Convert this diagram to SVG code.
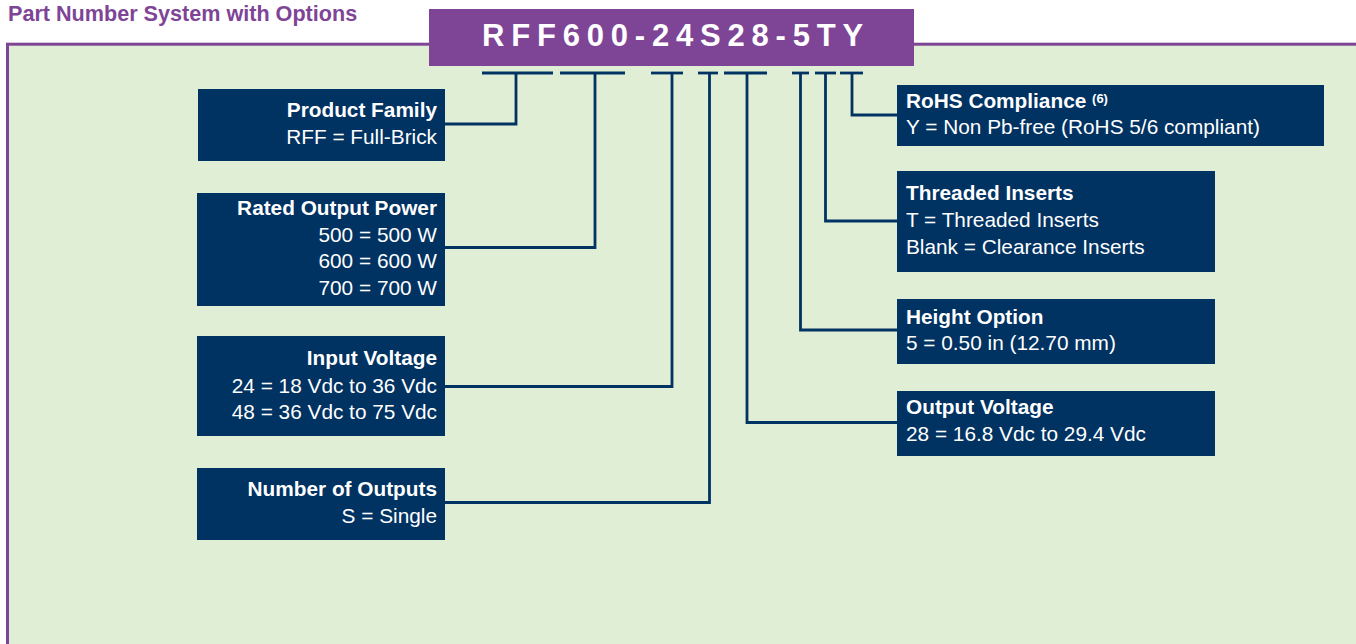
<svg xmlns="http://www.w3.org/2000/svg" width="1356" height="644" viewBox="0 0 1356 644">
<style>
.box{fill:#003262}
.t{font-family:"Liberation Sans",Arial,sans-serif;font-size:20.8px;fill:#ffffff}
.b{font-weight:bold}
.r{text-anchor:end}
.conn{fill:none;stroke:#003262;stroke-width:2.8}
</style>
<rect x="0" y="0" width="1356" height="644" fill="#ffffff"/>
<text x="8" y="21" font-family="'Liberation Sans',Arial,sans-serif" font-size="21.6" font-weight="bold" fill="#7E4496">Part Number System with Options</text>
<rect x="7.5" y="44.2" width="1360" height="610" fill="#E1EED6" stroke="#7E4496" stroke-width="3"/>
<g id="partnumber">
<rect x="429" y="9" width="485" height="57" fill="#7E4496"/>
<text x="482" y="46" font-family="'Liberation Sans',Arial,sans-serif" font-size="31" font-weight="bold" letter-spacing="6.8" fill="#ffffff">RFF600-24S28-5TY</text>
</g>
<g id="connectors" class="conn">
<line x1="482" y1="73" x2="553" y2="73"/>
<line x1="560" y1="73" x2="625" y2="73"/>
<line x1="651" y1="73" x2="683" y2="73"/>
<line x1="698" y1="73" x2="718" y2="73"/>
<line x1="724" y1="73" x2="767" y2="73"/>
<line x1="792" y1="73" x2="809" y2="73"/>
<line x1="815" y1="73" x2="836" y2="73"/>
<line x1="840" y1="73" x2="863" y2="73"/>
<polyline points="516,73 516,124 445,124"/>
<polyline points="595,73 595,247.5 445,247.5"/>
<polyline points="672,73 672,386.5 445,386.5"/>
<polyline points="709.5,73 709.5,502.5 445,502.5"/>
<polyline points="747,73 747,422.5 897,422.5"/>
<polyline points="800.5,73 800.5,330 897,330"/>
<polyline points="825.5,73 825.5,221 897,221"/>
<polyline points="852,73 852,115 897,115"/>
</g>
<g id="product-family">
<rect class="box" x="198" y="89" width="247" height="72"/>
<text class="t b r" x="437" y="117">Product Family</text>
<text class="t r" x="437" y="143.5">RFF = Full-Brick</text>
</g>
<g id="rated-output-power">
<rect class="box" x="197" y="193" width="248" height="113"/>
<text class="t b r" x="437" y="215">Rated Output Power</text>
<text class="t r" x="437" y="241.5">500 = 500 W</text>
<text class="t r" x="437" y="268">600 = 600 W</text>
<text class="t r" x="437" y="294.5">700 = 700 W</text>
</g>
<g id="input-voltage">
<rect class="box" x="197" y="336" width="248" height="100"/>
<text class="t b r" x="437" y="365">Input Voltage</text>
<text class="t r" x="437" y="392.5">24 = 18 Vdc to 36 Vdc</text>
<text class="t r" x="437" y="419">48 = 36 Vdc to 75 Vdc</text>
</g>
<g id="number-of-outputs">
<rect class="box" x="197" y="468" width="248" height="72"/>
<text class="t b r" x="437" y="496">Number of Outputs</text>
<text class="t r" x="437" y="523">S = Single</text>
</g>
<g id="rohs-compliance">
<rect class="box" x="897" y="85" width="427" height="61"/>
<text class="t b" x="906" y="107.5">RoHS Compliance <tspan font-size="13" dy="-5">(6)</tspan></text>
<text class="t" x="906" y="134">Y = Non Pb-free (RoHS 5/6 compliant)</text>
</g>
<g id="threaded-inserts">
<rect class="box" x="897" y="171" width="318" height="101"/>
<text class="t b" x="906" y="200">Threaded Inserts</text>
<text class="t" x="906" y="226.5">T = Threaded Inserts</text>
<text class="t" x="906" y="253.5">Blank = Clearance Inserts</text>
</g>
<g id="height-option">
<rect class="box" x="897" y="299" width="318" height="65"/>
<text class="t b" x="906" y="323.5">Height Option</text>
<text class="t" x="906" y="350">5 = 0.50 in (12.70 mm)</text>
</g>
<g id="output-voltage">
<rect class="box" x="897" y="391" width="318" height="65"/>
<text class="t b" x="906" y="414">Output Voltage</text>
<text class="t" x="906" y="440.5">28 = 16.8 Vdc to 29.4 Vdc</text>
</g>
</svg>
